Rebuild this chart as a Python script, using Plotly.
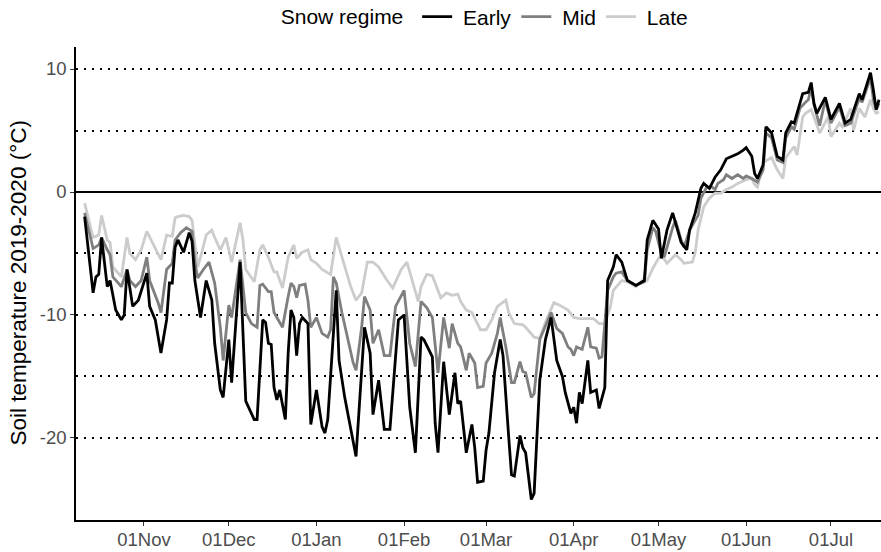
import pandas as pd
import plotly.graph_objects as go

# Day offsets are counted from 2019-11-01
base_date = "2019-11-01"

early_days = [-21,-18,-17,-16,-15,-13,-12,-10,-8,-7,
              -6,-4,-2,1,2,4,6,8,9,10,
              11,12,14,16,17,18,20,22,24,25,
              27,28,30,31,34,35,36,39,40,42,
              43,44,45,46,47,48,50,51,52,53,
              54,55,56,58,59,61,63,64,65,68,
              69,71,75,78,80,81,83,85,87,90,
              92,94,96,98,99,102,103,104,106,108,
              110,111,112,114,116,117,118,120,121,122,
              124,126,127,129,130,131,133,134,135,137,
              138,140,142,144,146,148,149,151,152,153,
              154,155,157,158,160,161,163,164,166,167,
              169,171,174,177,178,180,182,183,185,187,
              190,192,193,195,197,198,200,202,204,206,
              208,210,212,213,215,216,217,219,220,222,
              224,226,227,229,230,232,233,235,236,237,
              238,241,243,246,248,250,253,254,257,258,
              259,260]
early_vals = [-2.0,-8.2,-6.9,-6.7,-3.7,-7.7,-7.2,-9.6,-10.4,-10.0,
              -6.3,-9.3,-8.8,-6.6,-9.3,-10.4,-13.1,-10.4,-7.4,-7.4,
              -4.5,-3.9,-4.9,-3.3,-4.0,-7.2,-10.2,-7.2,-8.8,-12.3,
              -16.1,-16.7,-12.0,-15.5,-5.7,-11.8,-17.0,-18.5,-18.5,-10.4,
              -10.6,-12.3,-12.4,-15.9,-16.9,-16.1,-18.5,-13.1,-9.6,-10.2,
              -13.3,-10.7,-10.2,-10.7,-18.9,-16.1,-19.1,-19.6,-18.5,-8.0,
              -13.7,-16.7,-21.5,-11.0,-13.1,-18.1,-15.3,-19.3,-19.3,-10.4,
              -10.0,-17.5,-21.2,-11.8,-12.0,-13.4,-18.8,-21.2,-13.8,-18.1,
              -14.7,-17.2,-17.0,-21.2,-18.9,-20.8,-23.6,-23.5,-21.0,-19.6,
              -14.7,-12.0,-13.3,-19.9,-23.0,-23.1,-19.8,-20.8,-21.2,-25.0,
              -24.5,-15.3,-12.0,-10.2,-13.7,-15.0,-16.3,-18.0,-17.5,-18.8,
              -16.3,-17.2,-13.7,-16.3,-16.1,-17.6,-15.9,-7.2,-6.1,-5.1,
              -5.7,-7.2,-7.6,-7.2,-3.9,-2.3,-3.0,-5.4,-3.1,-1.7,
              -4.1,-4.7,-3.1,-1.7,0.3,0.7,0.3,1.2,1.8,2.7,
              2.9,3.1,3.4,3.6,2.9,1.5,1.1,2.2,5.3,4.8,
              2.9,2.6,4.8,5.7,5.6,7.2,8.0,8.1,8.9,7.2,
              6.4,7.7,5.9,7.2,5.6,5.9,8.0,7.5,9.7,8.3,
              6.7,7.5]

mid_days = [-21,-18,-16,-15,-13,-12,-11,-8,-6,-5,
            -3,-1,1,2,5,6,8,10,11,13,
            15,17,18,19,21,23,25,27,28,30,
            31,34,36,38,40,41,42,44,45,46,
            47,49,51,52,53,54,55,57,58,59,
            61,63,65,66,67,68,70,72,74,75,
            77,78,80,81,83,85,87,89,92,94,
            96,98,100,102,104,106,108,109,111,112,
            114,115,117,118,120,121,123,125,126,128,
            130,131,133,134,135,137,138,140,143,144,
            146,148,150,151,152,153,155,157,158,160,
            161,162,164,166,167,169,171,174,177,178,
            180,181,183,184,187,188,190,191,193,196,
            197,199,201,202,203,205,206,208,210,212,
            213,215,217,219,220,222,224,226,227,229,
            230,232,234,235,236,237,239,241,243,246,
            248,250,253,254,257,258,259,260]
mid_vals = [-1.7,-4.6,-4.3,-3.7,-4.7,-5.1,-6.9,-7.7,-6.3,-7.2,
            -7.7,-7.2,-5.3,-7.2,-9.0,-9.8,-6.3,-5.8,-3.9,-3.3,
            -2.9,-3.2,-5.7,-7.0,-6.3,-5.7,-7.4,-11.0,-13.7,-9.2,
            -10.2,-5.5,-9.8,-10.7,-11.0,-7.6,-7.5,-8.1,-8.1,-9.8,
            -10.2,-11.0,-8.5,-7.4,-7.7,-8.6,-7.6,-7.5,-8.8,-11.0,
            -10.2,-11.5,-11.8,-11.2,-6.9,-7.4,-9.8,-12.0,-13.9,-14.5,
            -11.0,-8.5,-9.6,-12.3,-11.2,-13.3,-13.3,-9.3,-8.0,-12.3,
            -14.2,-8.9,-9.4,-10.2,-14.7,-10.2,-12.7,-10.7,-12.3,-12.6,
            -14.5,-13.1,-13.9,-15.9,-15.8,-13.9,-13.1,-11.5,-10.2,-12.6,
            -15.5,-15.5,-13.8,-14.6,-14.7,-16.7,-16.4,-12.0,-10.4,-9.8,
            -11.1,-11.5,-12.6,-12.8,-13.3,-12.6,-12.8,-11.0,-12.6,-12.7,
            -13.5,-13.4,-8.0,-6.9,-6.6,-6.5,-7.2,-7.6,-7.3,-4.7,
            -2.9,-3.2,-5.0,-5.3,-2.9,-2.3,-3.9,-4.5,-3.1,-1.9,
            -0.5,0.4,0.4,0.2,0.7,1.0,1.4,1.1,1.4,1.1,
            1.3,1.1,0.8,1.8,4.8,4.4,2.6,2.4,4.4,5.3,
            5.1,6.8,7.3,7.5,8.5,7.1,5.4,7.5,5.6,6.9,
            5.4,5.6,7.6,7.3,9.3,7.5,6.7,7.2]

late_days = [-21,-19,-18,-16,-15,-13,-12,-11,-8,-6,
             -5,-3,-1,1,3,5,6,8,10,11,
             12,14,16,17,19,20,22,24,25,27,
             29,31,34,35,36,39,41,42,44,46,
             47,49,51,53,54,56,58,59,61,63,
             66,68,70,73,75,77,79,81,83,86,
             88,91,93,95,97,98,100,102,104,105,
             107,109,111,112,114,116,119,121,123,125,
             128,129,131,134,135,138,140,142,145,147,
             150,152,154,157,159,161,163,165,166,169,
             171,174,177,178,180,182,183,185,188,190,
             191,194,195,196,198,200,202,204,206,208,
             210,213,215,216,217,219,222,224,226,227,
             230,231,233,234,236,237,239,242,243,246,
             247,250,251,253,255,257,258,259,260]
late_vals = [-0.9,-2.8,-3.7,-3.5,-1.9,-3.9,-4.1,-6.1,-6.9,-3.7,
             -5.0,-5.5,-4.7,-3.2,-4.1,-5.1,-5.5,-3.5,-3.6,-2.1,
             -2.0,-1.9,-2.0,-2.3,-6.1,-5.3,-3.5,-3.1,-3.7,-4.7,
             -3.7,-5.7,-2.5,-3.9,-6.3,-7.3,-4.7,-4.3,-5.3,-6.5,
             -6.5,-7.8,-5.3,-4.3,-5.4,-4.9,-4.7,-5.5,-5.8,-6.3,
             -6.7,-3.7,-5.3,-7.6,-8.8,-8.2,-5.7,-5.7,-6.1,-7.2,
             -7.8,-6.3,-5.7,-7.4,-8.9,-7.7,-6.7,-6.8,-8.0,-8.6,
             -8.2,-8.4,-8.3,-8.9,-9.6,-9.8,-11.2,-11.2,-10.4,-9.3,
             -8.8,-9.8,-10.7,-10.8,-11.0,-11.8,-11.9,-10.6,-9.0,-9.2,
             -9.6,-10.2,-10.3,-10.3,-10.3,-10.7,-10.7,-9.3,-8.0,-7.2,
             -7.3,-7.7,-7.0,-7.2,-6.2,-5.4,-5.1,-5.8,-5.1,-5.5,
             -5.8,-5.7,-4.9,-3.1,-1.2,-0.5,-0.1,-0.1,0.2,0.4,
             0.7,1.0,1.1,0.6,0.4,2.4,2.8,1.8,1.1,2.8,
             3.7,3.0,6.1,6.4,6.7,6.1,4.8,6.1,4.5,5.6,
             5.3,6.8,5.0,6.8,6.1,7.5,6.8,6.4,6.5]

series_names = ["Early", "Mid", "Late"]
series_colors = ["#000000", "#7f7f7f", "#cccccc"]

ytick_vals = [-20, -10, 0, 10]
ytick_text = ["-20", "-10", "0", "10"]
ygrid_minor = [-15, -5, 5]

assert len(early_days) == len(early_vals)
assert len(mid_days) == len(mid_vals)
assert len(late_days) == len(late_vals)


def to_dates(days):
    return pd.Timestamp(base_date) + pd.to_timedelta(days, unit="D")


series = {
    "Early": (early_days, early_vals),
    "Mid": (mid_days, mid_vals),
    "Late": (late_days, late_vals),
}

FONT = "Liberation Sans, Arial, sans-serif"
GRIDDASH = "2px,6px"
fig = go.Figure()
# draw Late first so Early sits on top; legend keeps Early, Mid, Late order
for rank, name in reversed(list(enumerate(series_names))):
    d, v = series[name]
    fig.add_trace(go.Scatter(
        x=to_dates(d), y=v, mode="lines", name="\u00a0" + name,
        line=dict(color=series_colors[rank], width=2.8),
        legendrank=rank + 1,
    ))

fig.update_layout(
    width=881, height=552,
    margin=dict(l=76, r=0, t=47, b=32),
    paper_bgcolor="white", plot_bgcolor="white",
    font=dict(family=FONT, color="black"),
    showlegend=True,
    legend=dict(
        orientation="h", x=0.509, xanchor="center",
        y=1 - 17 / 552, yref="container", yanchor="middle",
        title=dict(text="Snow regime ", font=dict(size=21), side="left"),
        font=dict(size=21), itemwidth=30, tracegroupgap=0,
    ),
    xaxis=dict(
        type="date",
        range=["2019-10-07 22:48", "2020-07-18 16:48"],
        tick0="2019-11-01", dtick="M1", tickformat="%d%b",
        showgrid=False, zeroline=False,
        showline=True, linecolor="black", linewidth=1.5,
        ticks="outside", ticklen=4, tickcolor="#333333", tickwidth=1.2,
        tickfont=dict(size=18.5, color="#4d4d4d"),
        ticklabelstandoff=-2,
    ),
    yaxis=dict(
        range=[-26.67, 11.79],
        tickvals=ytick_vals, ticktext=ytick_text,
        showgrid=True, gridcolor="black", gridwidth=1.5, griddash=GRIDDASH,
        minor=dict(tickvals=ygrid_minor, showgrid=True, gridcolor="black",
                   gridwidth=1.5, griddash=GRIDDASH),
        zeroline=True, zerolinecolor="black", zerolinewidth=1.5,
        showline=True, linecolor="black", linewidth=1.5,
        ticks="outside", ticklen=4, tickcolor="#333333", tickwidth=1.2,
        tickfont=dict(size=18.5, color="#4d4d4d"),
    ),
    annotations=[dict(
        text="Soil temperature 2019-2020 (°C)", textangle=-90,
        xref="paper", yref="paper", x=-0.072, y=0.5,
        xanchor="center", yanchor="middle", showarrow=False,
        font=dict(size=22.5, color="black", family=FONT),
    )],
)

fig.write_html("out.html")
